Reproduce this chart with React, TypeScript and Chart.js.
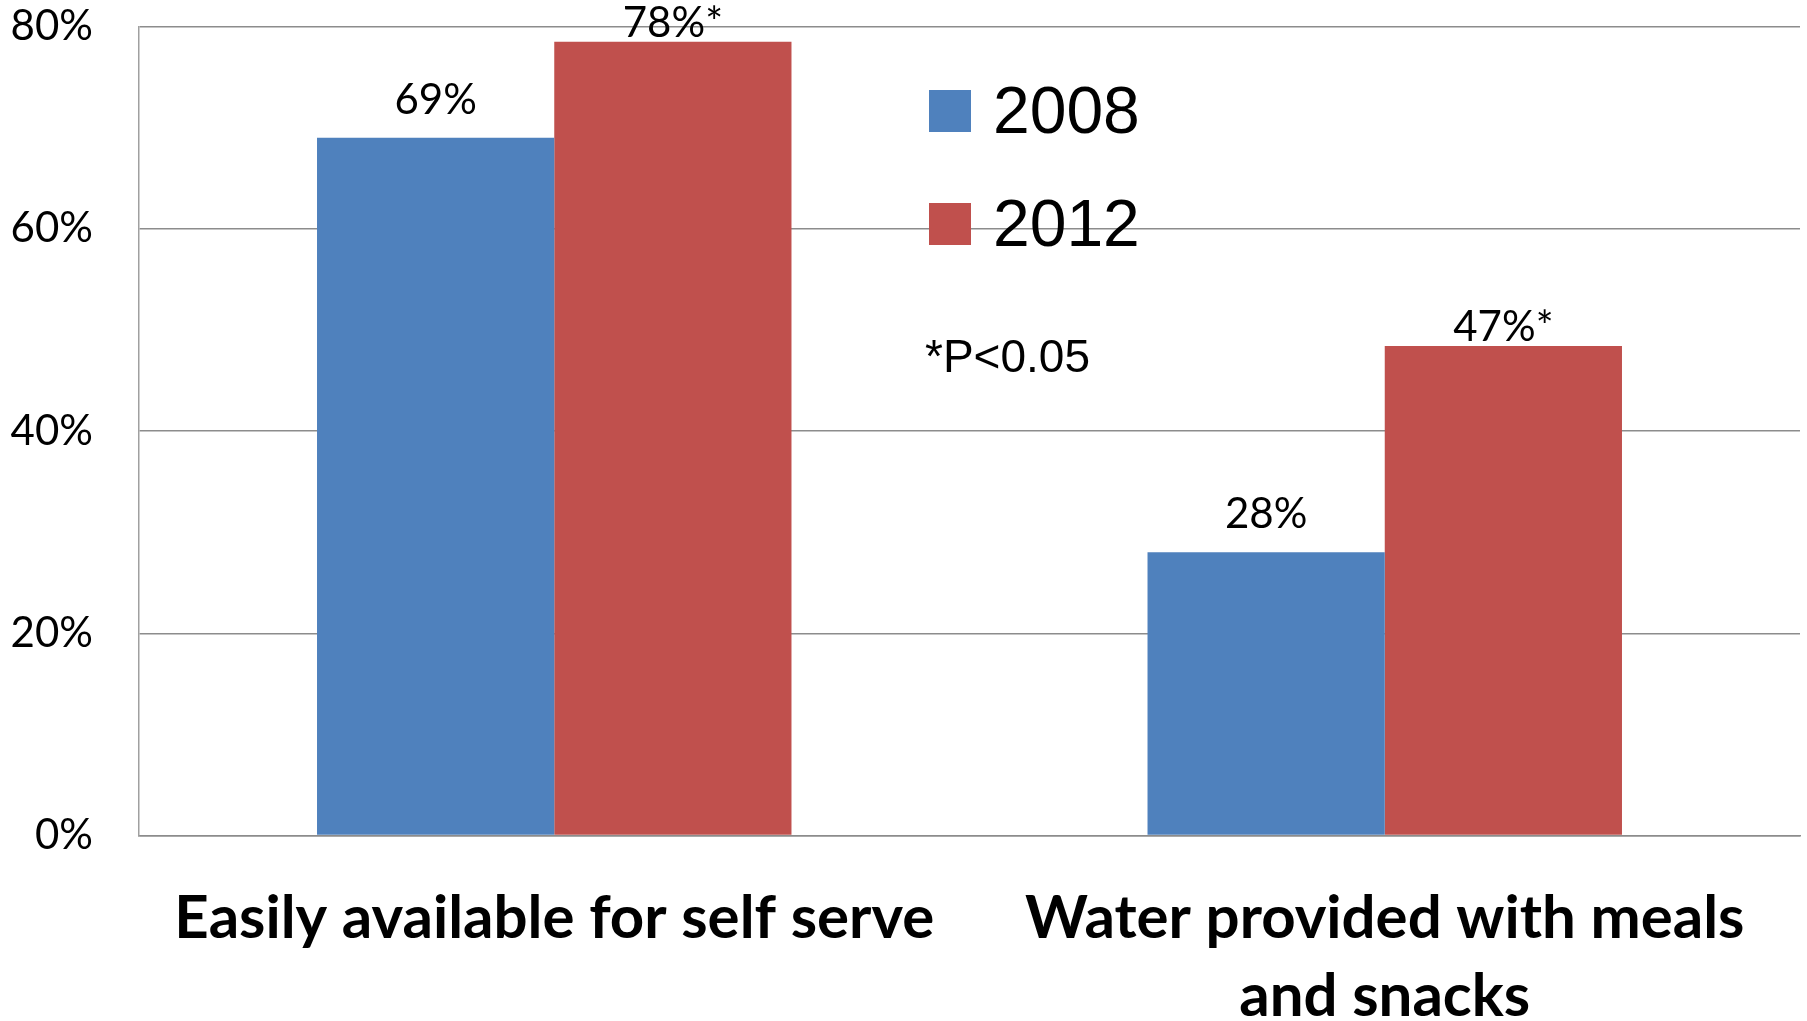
import { useEffect, useRef } from "react";
import { Chart, registerables } from "chart.js";

Chart.register(...registerables);

// ---- data ----
const categories: string[][] = [
  ["Easily available for self serve"],
  ["Water provided with meals", "and snacks"],
];
const seriesNames = ["2008", "2012"];
const values2008 = [69, 28];
const values2012 = [78.5, 48.4];
const labels2008 = ["69%", "28%"];
const labels2012 = ["78%*", "47%*"];
const yTickMin = 0;
const yTickMax = 80;
const yTickStep = 20;
const noteText = "*P<0.05";

// ---- styles ----
const BLUE = "#4F81BD";
const RED = "#C0504D";
const GRID = "#8c8c8c";
const W = 1807;
const H = 1021;

const valueLabels = [labels2008, labels2012];
const labelGaps = [24, 5];

const dataLabelPlugin = {
  id: "dataLabelPlugin",
  afterDatasetsDraw(chart: any) {
    const ctx = chart.ctx;
    ctx.save();
    ctx.font = "42px Lato";
    ctx.fillStyle = "#000";
    ctx.textAlign = "center";
    ctx.textBaseline = "alphabetic";
    chart.data.datasets.forEach((_ds: any, i: number) => {
      const meta = chart.getDatasetMeta(i);
      meta.data.forEach((bar: any, j: number) => {
        ctx.fillText(valueLabels[i][j], bar.x, bar.y - labelGaps[i]);
      });
    });
    ctx.restore();
  },
};

const legendPlugin = {
  id: "customLegend",
  afterDraw(chart: any) {
    const ctx = chart.ctx;
    ctx.save();
    const boxX = 929;
    const boxTops = [90, 203];
    const size = 42;
    chart.data.datasets.forEach((ds: any, i: number) => {
      ctx.fillStyle = ds.backgroundColor;
      ctx.fillRect(boxX, boxTops[i], size, size);
      ctx.fillStyle = "#000";
      ctx.font = "66px 'Liberation Sans'";
      ctx.textAlign = "left";
      ctx.textBaseline = "alphabetic";
      ctx.fillText(ds.label, 993, boxTops[i] + size + 1);
    });
    ctx.font = "46px 'Liberation Sans'";
    ctx.fillText(noteText, 925, 372);
    ctx.restore();
  },
};

export default function App() {
  const ref = useRef<HTMLCanvasElement | null>(null);

  useEffect(() => {
    document.body.style.margin = "0";
    const canvas = ref.current;
    if (!canvas) return;
    const chart = new Chart(canvas, {
      type: "bar",
      data: {
        labels: categories as any,
        datasets: [
          {
            label: seriesNames[0],
            data: values2008,
            backgroundColor: BLUE,
            borderWidth: 0,
          },
          {
            label: seriesNames[1],
            data: values2012,
            backgroundColor: RED,
            borderWidth: 0,
          },
        ],
      },
      options: {
        animation: false,
        responsive: false,
        devicePixelRatio: 1,
        layout: { autoPadding: false, padding: { top: 26.5, right: 7, bottom: 0, left: 0 } },
        plugins: {
          legend: { display: false },
          tooltip: { enabled: false },
        },
        datasets: {
          bar: { barPercentage: 1, categoryPercentage: 0.5713 },
        },
        scales: {
          x: {
            grid: { display: false, drawTicks: false },
            border: { display: true, color: GRID, width: 1.5 },
            ticks: {
              color: "#000",
              font: { family: "Lato", size: 60, weight: "bold", lineHeight: 78 / 60 },
              padding: 44,
              maxRotation: 0,
              autoSkip: false,
            },
            afterFit(scale: any) {
              scale.height = 185.5;
              scale.paddingLeft = 0;
              scale.paddingRight = 0;
            },
          },
          y: {
            min: yTickMin,
            max: yTickMax,
            grid: { color: GRID, lineWidth: 1.5, drawTicks: false },
            border: { display: true, color: "#a0a0a0", width: 1.5 },
            ticks: {
              stepSize: yTickStep,
              color: "#000",
              font: { family: "Lato", size: 42 },
              padding: 46,
              callback: (v: any) => `${v}%`,
            },
            afterFit(scale: any) {
              scale.width = 139;
              scale.paddingTop = 0;
              scale.paddingBottom = 0;
            },
          },
        },
      },
      plugins: [dataLabelPlugin, legendPlugin],
    });
    return () => chart.destroy();
  }, []);

  return (
    <div style={{ position: "absolute", left: 0, top: 0, width: W, height: H, background: "#fff" }}>
      <canvas ref={ref} width={W} height={H} style={{ width: W, height: H, display: "block" }} />
    </div>
  );
}
